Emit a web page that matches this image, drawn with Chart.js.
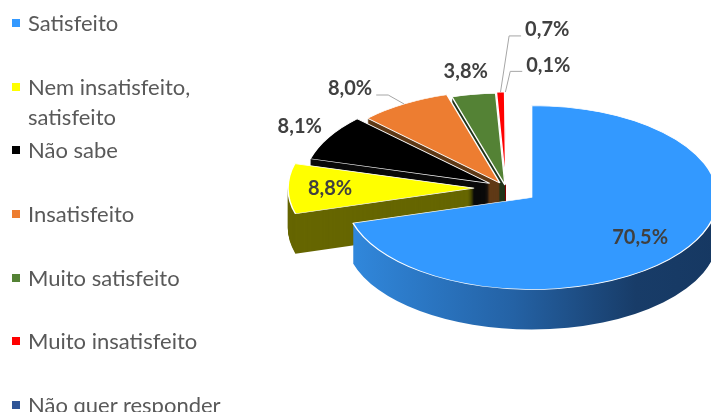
<!DOCTYPE html>
<html><head><meta charset="utf-8">
<script src="https://cdn.jsdelivr.net/npm/chart.js@4.4.1/dist/chart.umd.min.js"></script>
<style>
html,body{margin:0;padding:0;background:#fff;overflow:hidden}
#wrap{position:relative;width:711px;height:412px}
#c{position:absolute;left:0;top:0}
#legend{position:absolute;left:0;top:0;font-family:Lato,sans-serif;font-size:22px;color:#595959}
.item{position:absolute;left:0;display:flex;align-items:flex-start}
.sw{width:8px;height:8px;margin:11px 8px 0 12px;flex:none}
.tx{line-height:30px;width:205px}
</style></head><body>
<div id="wrap"><canvas id="c" width="711" height="412"></canvas><div id="legend"></div></div>
<script>
const categories = ['Satisfeito', 'Nem insatisfeito, satisfeito', 'Não sabe', 'Insatisfeito', 'Muito satisfeito', 'Muito insatisfeito', 'Não quer responder'];
const values = [70.5, 8.8, 8.1, 8.0, 3.8, 0.7, 0.1];
const topColors = ['#3399FF', '#FFFF00', '#000000', '#ED7D31', '#548235', '#FF0000', '#2F5597'];
const sideColors = [null, '#666600', '#0A0A0A', '#5F3A17', '#20351A', '#800000', '#1F3864'];
const explodeOffsets = [32, 32, 19, 12, 6, 8, 8];
const labelRadius = [0.73, 0.774, 1.195, 1.30, 1.25, 1.69, 1.31];
const labelShiftDeg = [0, 0, 1.3, -7.3, 0, 9.2, 10.2];
const leaderSide = [null, null, null, 'right', null, 'left', 'left'];

const TILT = 0.4946, DEPTH = 40;

function tilt(ctx, cx, cy) {
  ctx.translate(cx, cy); ctx.scale(1, TILT); ctx.translate(-cx, -cy);
}

const pie3d = {
  id: 'pie3d',
  beforeDatasetDraw(chart, args) {
    const ctx = chart.ctx;
    const arcs = args.meta.data;
    const cx = arcs[0].x, cy = arcs[0].y;
    const mid = a => (a.startAngle + a.endAngle) / 2;
    const order = arcs.map((a, i) => i).sort((i, j) => Math.sin(mid(arcs[i])) - Math.sin(mid(arcs[j])));
    for (const i of order) {
      const a = arcs[i];
      const m = mid(a);
      const e = explodeOffsets[i];
      const dx = e * Math.cos(m), dy = e * Math.sin(m);
      let side = sideColors[i];
      if (!side) {
        const g = ctx.createLinearGradient(a.x - a.outerRadius, 0, a.x + a.outerRadius, 0);
        g.addColorStop(0, '#3189DE');
        g.addColorStop(0.45, '#2462A5');
        g.addColorStop(0.78, '#183C68');
        g.addColorStop(1, '#163862');
        side = g;
      }
      for (let d = DEPTH; d >= 1; d--) {
        ctx.save();
        ctx.translate(0, d);
        tilt(ctx, cx, cy);
        ctx.translate(dx, dy);
        ctx.beginPath();
        ctx.moveTo(a.x, a.y);
        ctx.arc(a.x, a.y, a.outerRadius, a.startAngle, a.endAngle);
        ctx.closePath();
        ctx.fillStyle = side;
        ctx.fill();
        ctx.restore();
      }
      ctx.save();
      tilt(ctx, cx, cy);
      ctx.translate(dx, dy);
      a.draw(ctx);
      ctx.restore();
    }
    return false;
  },
  afterDatasetsDraw(chart) {
    const ctx = chart.ctx;
    const meta = chart.getDatasetMeta(0);
    const arcs = meta.data;
    const cx = arcs[0].x, cy = arcs[0].y;
    ctx.save();
    ctx.font = 'bold 20px Lato, sans-serif';
    ctx.fillStyle = '#404040';
    ctx.textAlign = 'center';
    ctx.textBaseline = 'middle';
    arcs.forEach((a, i) => {
      const m = (a.startAngle + a.endAngle) / 2;
      const e = explodeOffsets[i];
      const ax = cx + e * Math.cos(m), ay = cy + TILT * e * Math.sin(m);
      const R = a.outerRadius;
      const t = m + labelShiftDeg[i] * Math.PI / 180;
      const lx = ax + labelRadius[i] * R * Math.cos(t);
      const ly = ay + TILT * labelRadius[i] * R * Math.sin(t);
      const txt = values[i].toFixed(1).replace('.', ',') + '%';
      ctx.fillText(txt, lx, ly);
      if (leaderSide[i]) {
        const w = ctx.measureText(txt).width;
        const ex = ax + R * Math.cos(m), ey = ay + TILT * R * Math.sin(m);
        const dir = leaderSide[i] === 'right' ? 1 : -1;
        const sx = lx + dir * (w / 2 + 4), sy = ly + 6;
        ctx.save();
        ctx.strokeStyle = '#A6A6A6';
        ctx.lineWidth = 1;
        ctx.beginPath();
        ctx.moveTo(sx, sy);
        ctx.lineTo(sx + dir * 12, sy);
        ctx.lineTo(ex, ey);
        ctx.stroke();
        ctx.restore();
      }
    });
    ctx.restore();
  }
};

const chart = new Chart(document.getElementById('c'), {
  type: 'pie',
  data: {
    labels: categories,
    datasets: [{
      data: values,
      backgroundColor: topColors,
      borderColor: '#FFFFFF',
      borderWidth: 1.5,
      radius: 186
    }]
  },
  options: {
    responsive: false,
    animation: false,
    events: [],
    radius: 186,
    layout: { padding: { left: 301, right: 0, top: 0, bottom: 36 } },
    plugins: { legend: { display: false }, tooltip: { enabled: false } }
  },
  plugins: [pie3d]
});

const legend = document.getElementById('legend');
categories.forEach((name, i) => {
  const it = document.createElement('div');
  it.className = 'item';
  it.style.top = (8 + i * 63.67) + 'px';
  const sw = document.createElement('div');
  sw.className = 'sw';
  sw.style.background = topColors[i];
  const tx = document.createElement('div');
  tx.className = 'tx';
  tx.textContent = name;
  it.appendChild(sw); it.appendChild(tx);
  legend.appendChild(it);
});
</script>
</body></html>
